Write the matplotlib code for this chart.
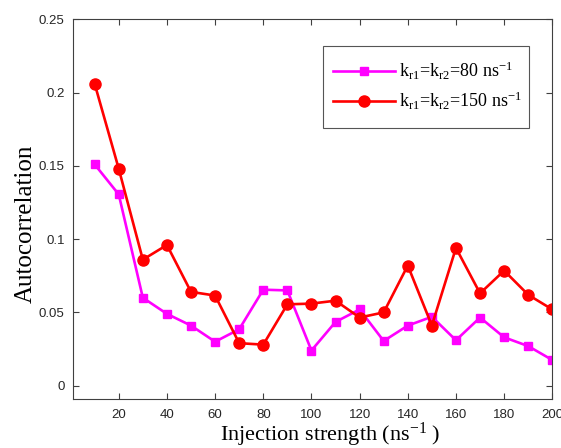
import numpy as np
import matplotlib
matplotlib.use("Agg")
import matplotlib.pyplot as plt
from matplotlib.patches import Rectangle
from matplotlib.ticker import FuncFormatter

# injection strength (ns^-1)
injection = [10, 20, 30, 40, 50, 60, 70, 80, 90, 100,
             110, 120, 130, 140, 150, 160, 170, 180, 190, 200]

# autocorrelation, k_r1 = k_r2 = 80 ns^-1
acf_80 = [0.151, 0.1305, 0.060, 0.049, 0.041, 0.030, 0.0385, 0.0655, 0.065, 0.024,
          0.0435, 0.052, 0.0305, 0.041, 0.047, 0.031, 0.0465, 0.033, 0.027, 0.0175]

# autocorrelation, k_r1 = k_r2 = 150 ns^-1
acf_150 = [0.206, 0.148, 0.086, 0.096, 0.064, 0.0615, 0.029, 0.028, 0.0555, 0.056,
           0.058, 0.0465, 0.050, 0.082, 0.041, 0.094, 0.063, 0.0785, 0.062, 0.052]

labels = [r"k$_{\rm r1}$=k$_{\rm r2}$=80 ns$^{-1}$",
          r"k$_{\rm r1}$=k$_{\rm r2}$=150 ns$^{-1}$"]

xticks = [20, 40, 60, 80, 100, 120, 140, 160, 180, 200]
yticks = [0, 0.05, 0.1, 0.15, 0.2, 0.25]

plt.rcParams["mathtext.fontset"] = "custom"
plt.rcParams["mathtext.rm"] = "Liberation Serif"
plt.rcParams["mathtext.it"] = "Liberation Serif:italic"
plt.rcParams["mathtext.bf"] = "Liberation Serif:bold"

fig = plt.figure(figsize=(5.61, 4.48), dpi=100)
ax = fig.add_axes([0.1301, 0.1087, 0.8544, 0.8482])

ax.plot(injection, acf_80, color="#ff00ff", lw=1.9, marker="s", ms=6.2,
        label=labels[0])
ax.plot(injection, acf_150, color="#ff0000", lw=1.9, marker="o", ms=8,
        label=labels[1])

ax.set_xlim(1, 200)
ax.set_ylim(-0.0093, 0.25)
ax.set_xticks(xticks)
ax.set_yticks(yticks)
ax.yaxis.set_major_formatter(FuncFormatter(lambda v, p: f"{v:g}"))

grey = "#404040"
for s in ax.spines.values():
    s.set_color(grey)
    s.set_linewidth(0.8)
ax.tick_params(direction="in", length=4, width=0.8, color=grey,
               top=True, right=True, labelsize=9.5, labelcolor="#262626")
ax.tick_params(axis="x", pad=7)
ax.tick_params(axis="y", pad=6)
for t in ax.get_xticklabels() + ax.get_yticklabels():
    t.set_family("Liberation Sans")

ax.set_xlabel(r"Injection strength (ns$^{-1}$ )", family="Liberation Serif",
              fontsize=16)
ax.set_ylabel("Autocorrelation", family="Liberation Serif", fontsize=18)
ax.xaxis.set_label_coords(0.536, -0.0565)
ax.yaxis.set_label_coords(-0.075, 0.461)

leg = ax.legend(loc="upper left", bbox_to_anchor=(0.5425, 0.893),
                frameon=False, prop={"family": "Liberation Serif", "size": 13},
                handlelength=3.43, handletextpad=0.22, labelspacing=0.42,
                borderaxespad=0, borderpad=0)
ax.add_patch(Rectangle((0.5216, 0.7147), 0.4294, 0.2158, transform=ax.transAxes,
                       fill=False, edgecolor="#555555", lw=0.8, clip_on=False,
                       zorder=5))

fig.savefig("out.png", dpi=100)
